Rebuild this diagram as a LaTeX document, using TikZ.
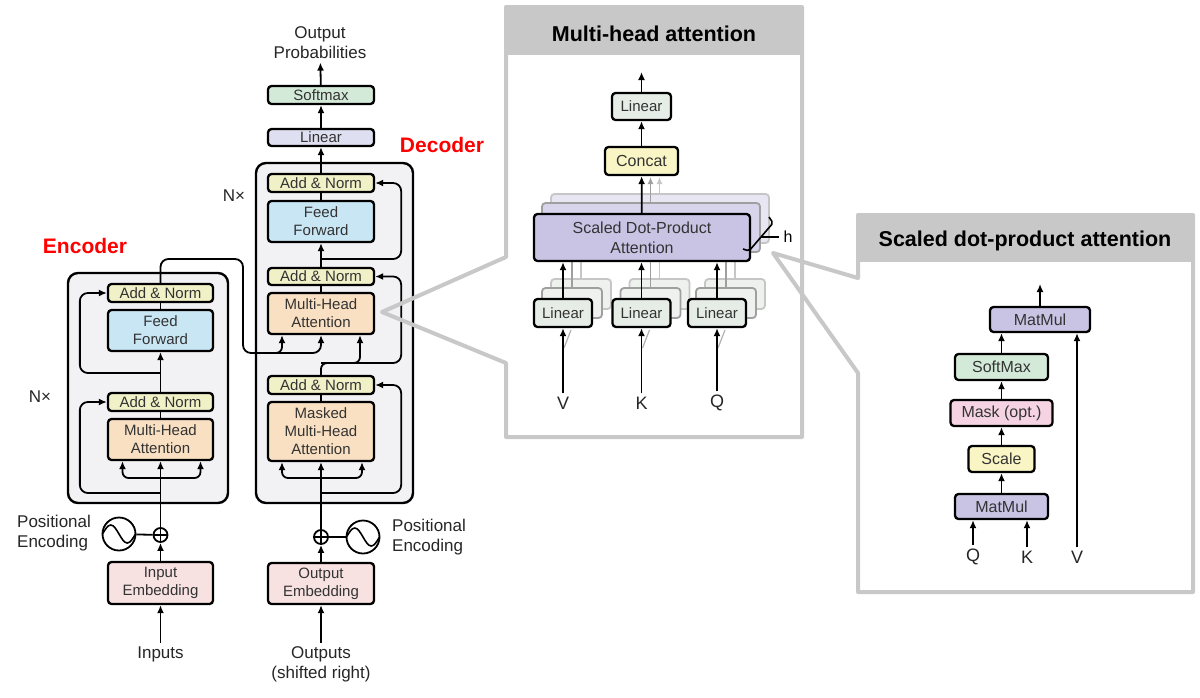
\documentclass[tikz,border=0pt]{standalone}
\usepackage{fontspec}
\setmainfont{Liberation Sans}
\usetikzlibrary{arrows.meta,calc}
\definecolor{stackbg}{HTML}{F2F2F4}
\definecolor{normc}{HTML}{F1F1C8}
\definecolor{ffc}{HTML}{C9E6F4}
\definecolor{attc}{HTML}{F9E0C2}
\definecolor{embc}{HTML}{F7E1E1}
\definecolor{softc}{HTML}{D4EAD9}
\definecolor{linc}{HTML}{DEDFF0}
\definecolor{mlinc}{HTML}{E6ECE6}
\definecolor{linback}{HTML}{EEF1EE}
\definecolor{catc}{HTML}{FAF5C5}
\definecolor{sdpc}{HTML}{C9C3E4}
\definecolor{sdpmid}{HTML}{D8D4EC}
\definecolor{sdpback}{HTML}{E8E6F3}
\definecolor{maskc}{HTML}{F5D3E3}
\definecolor{panelc}{HTML}{C8C8C8}
\definecolor{titlec}{HTML}{FF0000}

\begin{document}
\begin{tikzpicture}[x=1pt,y=-1pt,
  blk/.style={draw,line width=2.3pt,rounded corners=3.5pt,align=center,inner sep=0pt,
    text=black!80,font=\fontsize{15}{18}\selectfont},
  ar/.style={line width=1.8pt,-{Latex[length=8pt,width=7pt]}},
  ln/.style={line width=1.8pt},
  lbl/.style={align=center,text=black!85,font=\fontsize{17}{20}\selectfont},
  stackbox/.style={line width=2.4pt,rounded corners=10pt,fill=stackbg},
  panelline/.style={draw=panelc,line width=4pt,line join=round},
  ptitle/.style={font=\bfseries\fontsize{21.5}{24}\selectfont},
  redtitle/.style={text=titlec,font=\bfseries\fontsize{21}{24}\selectfont},
  wave/.style={draw,circle,line width=1.8pt,minimum size=33pt,inner sep=0pt},
  plus/.style={draw,circle,line width=1.8pt,minimum size=14pt,inner sep=0pt}]
\fill[white] (0,0) rectangle (1200,697);
\useasboundingbox (0,0) rectangle (1200,697);

\draw[stackbox] (68,273) rectangle (228,503);
\node[redtitle] (etitle) at (85,246) {Encoder};
\node[lbl] (enx) at (40,397) {N×};
\node[blk,fill=normc,minimum width=105pt,minimum height=18pt] (ean2) at (160.5,293) {Add \& Norm};
\node[blk,fill=ffc,minimum width=105pt,minimum height=41pt] (eff) at (160.5,330.5) {Feed\\Forward};
\node[blk,fill=normc,minimum width=105pt,minimum height=18pt] (ean1) at (160.5,402) {Add \& Norm};
\node[blk,fill=attc,minimum width=105pt,minimum height=41pt] (emha) at (160.5,439.5) {Multi-Head\\Attention};
\node[blk,fill=embc,minimum width=105pt,minimum height=42pt] (eemb) at (160.5,583) {Input\\Embedding};
\node[plus] (eplus) at (160.5,535) {};
\node[wave] (esin) at (119,534) {};
\node[lbl,align=left,anchor=west,inner sep=0pt] (epos) at (17,533) {Positional\\Encoding};
\node[lbl] (ein) at (160.5,654) {Inputs};
\draw[line width=1.3pt] (eplus.north) -- (eplus.south) (eplus.west) -- (eplus.east);
\draw[line width=1.6pt] (102.5,534) sin (110.75,525) cos (119,534) sin (127.25,543) cos (135.5,534);
\coordinate (ebr) at (160.5,478);
\coordinate (er1) at (160.5,493);
\coordinate (er2) at (160.5,373);
\draw[ar] (ein) -- (eemb);
\draw[ar] (eemb) -- (eplus);
\draw[ln] (esin) -- (eplus);
\draw[ar] (eplus) -- (emha);
\draw[ar,rounded corners=6pt] (ebr) -| ([xshift=-38pt]emha.south);
\draw[ar,rounded corners=6pt] (ebr) -| ([xshift=40pt]emha.south);
\draw[ar,rounded corners=8pt] (er1) -| ([xshift=-27pt]ean1.west) -- (ean1.west);
\draw[ln] (emha) -- (ean1);
\draw[ar] (ean1) -- (eff);
\draw[ar,rounded corners=8pt] (er2) -| ([xshift=-27pt]ean2.west) -- (ean2.west);
\draw[ln] (eff) -- (ean2);

\draw[stackbox] (256,163) rectangle (413,503);
\node[redtitle] (dtitle) at (442,145) {Decoder};
\node[lbl] (dnx) at (234,196) {N×};
\node[blk,fill=softc,minimum width=106pt,minimum height=18pt] (dsm) at (321,95) {Softmax};
\node[blk,fill=linc,minimum width=106pt,minimum height=17pt] (dlin) at (321,137.5) {Linear};
\node[blk,fill=normc,minimum width=106pt,minimum height=18pt] (dan3) at (321,183) {Add \& Norm};
\node[blk,fill=ffc,minimum width=106pt,minimum height=41pt] (dff) at (321,221.5) {Feed\\Forward};
\node[blk,fill=normc,minimum width=106pt,minimum height=17pt] (dan2) at (321,276.5) {Add \& Norm};
\node[blk,fill=attc,minimum width=106pt,minimum height=41pt] (dmha) at (321,313.5) {Multi-Head\\Attention};
\node[blk,fill=normc,minimum width=106pt,minimum height=18pt] (dan1) at (321,385) {Add \& Norm};
\node[blk,fill=attc,minimum width=106pt,minimum height=59pt] (dmmha) at (321,431.5) {Masked\\Multi-Head\\Attention};
\node[blk,fill=embc,minimum width=106pt,minimum height=41pt] (demb) at (321,583.5) {Output\\Embedding};
\node[plus] (dplus) at (321,537) {};
\node[wave] (dsin) at (363,537) {};
\node[lbl,align=left,anchor=west,inner sep=0pt] (dpos) at (392,537) {Positional\\Encoding};
\node[lbl] (dout) at (321,664) {Outputs\\(shifted right)};
\node[lbl] (dprob) at (320,43) {Output\\Probabilities};
\draw[line width=1.3pt] (dplus.north) -- (dplus.south) (dplus.west) -- (dplus.east);
\draw[line width=1.6pt] (346.5,537) sin (354.75,528) cos (363,537) sin (371.25,546) cos (379.5,537);
\coordinate (dbr) at (321,478);
\coordinate (dr1) at (321,493);
\coordinate (dq) at (321,363);
\coordinate (dr3) at (321,259);
\draw[ar] (dout) -- (demb);
\draw[ar] (demb) -- (dplus);
\draw[ln] (dsin) -- (dplus);
\draw[ar] (dplus) -- (dmmha);
\draw[ar,rounded corners=6pt] (dbr) -| ([xshift=-39pt]dmmha.south);
\draw[ar,rounded corners=6pt] (dbr) -| ([xshift=41pt]dmmha.south);
\draw[ar,rounded corners=8pt] (dr1) -| ([xshift=26pt]dan1.east) -- (dan1.east);
\draw[ln] (dmmha) -- (dan1);
\draw[ar,rounded corners=6pt] (dan1.north) -- (dq) -| ([xshift=39pt]dmha.south);
\draw[ar,rounded corners=8pt] (dq) -| ([xshift=26pt]dan2.east) -- (dan2.east);
\draw[ln] (dmha) -- (dan2);
\draw[ar] (dan2) -- (dff);
\draw[ar,rounded corners=8pt] (dr3) -| ([xshift=26pt]dan3.east) -- (dan3.east);
\draw[ln] (dff) -- (dan3);
\draw[ar] (dan3) -- (dlin);
\draw[ar] (dlin) -- (dsm);
\draw[ar] (dsm) -- (dprob);

\coordinate (eo1) at (243,259);
\coordinate (eo2) at (321,353);
\coordinate (eo3) at (262,353);
\draw[ar,rounded corners=8pt] (ean2.north) |- (eo1) |- (eo2) -- (dmha.south);
\draw[ar,rounded corners=6pt] (eo3) -| ([xshift=-39pt]dmha.south);

\fill[white] (506,7) rectangle (802,437);
\fill[panelc] (506,7) rectangle (802,55);
\draw[panelline] (506,257) -- (382,312) -- (506,363) -- (506,437) -- (802,437) -- (802,7) -- (506,7) -- cycle;
\node[ptitle] (mtitle) at (654,34) {Multi-head attention};
\foreach \dx/\dy/\fc/\dc in {18/19/sdpback/gray!45,9/10/sdpmid/gray!75} {
  \draw[line width=1.8pt,rounded corners=3.5pt,draw=\dc,fill=\fc] (533+\dx,213-\dy) rectangle (751+\dx,262-\dy);
  \foreach \lx in {533,611.5,687}
    \draw[line width=1.8pt,rounded corners=3.5pt,draw=\dc,fill=linback] (\lx+\dx,298-\dy) rectangle (\lx+60+\dx,328-\dy);
  \foreach \cx in {563,641.5,717}
    \draw[line width=1.6pt,\dc] (\cx+\dx,298-\dy) -- (\cx+\dx,262-\dy);
  \draw[line width=1.6pt,\dc,-{Latex[length=7pt,width=6pt]}] (641.5+\dx,213-\dy) -- (641.5+\dx,177);
}
\node[blk,fill=sdpc,minimum width=216pt,minimum height=47pt,font=\fontsize{16}{20}\selectfont] (msdp) at (642,237.5) {Scaled Dot-Product\\Attention};
\node[blk,fill=mlinc,minimum width=58pt,minimum height=28pt] (mlv) at (563,313) {Linear};
\node[blk,fill=mlinc,minimum width=58pt,minimum height=28pt] (mlk) at (641.5,313) {Linear};
\node[blk,fill=mlinc,minimum width=58pt,minimum height=28pt] (mlq) at (717,313) {Linear};
\node[blk,fill=catc,minimum width=73pt,minimum height=28pt,font=\fontsize{16}{18}\selectfont] (mcat) at (641.5,161) {Concat};
\node[blk,fill=mlinc,minimum width=59pt,minimum height=27pt] (mlin) at (641.5,106.5) {Linear};
\node[lbl,font=\fontsize{18}{20}\selectfont] (mv) at (563,403) {V};
\node[lbl,font=\fontsize{18}{20}\selectfont] (mk) at (641.5,403) {K};
\node[lbl,font=\fontsize{18}{20}\selectfont] (mq) at (717,403) {Q};
\foreach \cx in {563,641.5,717}
  \draw[line width=1.2pt,gray!60] (\cx+1,348) -- (\cx+8,330);
\draw[ar] (mv) -- (mlv);
\draw[ar] (mk) -- (mlk);
\draw[ar] (mq) -- (mlq);
\draw[ar] (mlv) -- (mlv |- msdp.south);
\draw[ar] (mlk) -- (mlk |- msdp.south);
\draw[ar] (mlq) -- (mlq |- msdp.south);
\draw[ar] (msdp) -- (mcat);
\draw[ar] (mcat) -- (mlin);
\coordinate (mout) at (641.5,72);
\draw[ar] (mlin) -- (mout);
\draw[line width=1.6pt,rounded corners=2pt] (769,217) -- (773,223) -- (749,251) -- (743,249);
\draw[line width=1.2pt] (761,237) -- (779,237);
\node[font=\fontsize{16}{18}\selectfont] (mh) at (788,237) {h};

\fill[white] (858,215) rectangle (1193,592);
\fill[panelc] (858,215) rectangle (1193,262);
\draw[panelline] (858,278) -- (773,253) -- (858,373) -- (858,592) -- (1193,592) -- (1193,215) -- (858,215) -- cycle;
\node[ptitle] (stitle) at (1025,241) {Scaled dot-product attention};
\node[blk,fill=sdpc,minimum width=100pt,minimum height=25pt,font=\fontsize{16}{18}\selectfont] (smm2) at (1040,319.5) {MatMul};
\node[blk,fill=softc,minimum width=93pt,minimum height=26pt,font=\fontsize{16}{18}\selectfont] (ssm) at (1001.5,367) {SoftMax};
\node[blk,fill=maskc,minimum width=102pt,minimum height=26pt,font=\fontsize{16}{18}\selectfont] (smask) at (1001.5,413) {Mask (opt.)};
\node[blk,fill=catc,minimum width=66pt,minimum height=26pt,font=\fontsize{16}{18}\selectfont] (sscale) at (1001.5,459) {Scale};
\node[blk,fill=sdpc,minimum width=93pt,minimum height=25pt,font=\fontsize{16}{18}\selectfont] (smm1) at (1001.5,506.5) {MatMul};
\node[lbl,font=\fontsize{18}{20}\selectfont] (sq) at (973,557) {Q};
\node[lbl,font=\fontsize{18}{20}\selectfont] (sk) at (1027,557) {K};
\node[lbl,font=\fontsize{18}{20}\selectfont] (sv) at (1077,557) {V};
\draw[ar] (sq) -- (sq |- smm1.south);
\draw[ar] (sk) -- (sk |- smm1.south);
\draw[ar] (smm1) -- (sscale);
\draw[ar] (sscale) -- (smask);
\draw[ar] (smask) -- (ssm);
\draw[ar] (ssm) -- (ssm |- smm2.south);
\draw[ar] (sv) -- (sv |- smm2.south);
\coordinate (sout) at (1040,284);
\draw[ar] (smm2) -- (sout);
\end{tikzpicture}
\end{document}
